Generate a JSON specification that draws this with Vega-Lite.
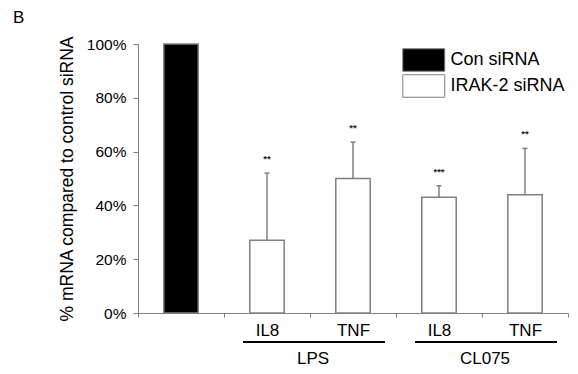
{
  "$schema": "https://vega.github.io/schema/vega-lite/v6.json",
  "width": 430,
  "height": 269,
  "autosize": {"type": "none"},
  "padding": {"left": 138, "top": 44, "right": 10, "bottom": 61},
  "background": "white",
  "title": {"text": "B", "anchor": "start", "frame": "group", "dx": -125, "dy": 12, "offset": 8, "baseline": "alphabetic", "fontSize": 17, "fontWeight": "normal", "color": "black"},
  "config": {
    "view": {"stroke": null},
    "font": "Liberation Sans",
    "legend": {"orient": "none", "legendX": 273.75, "legendY": 4, "padding": 0}
  },
  "datasets": {
    "bars": [
      {"cat": "Control", "siRNA": "Con siRNA", "value": 1.0},
      {"cat": "IL8 (LPS)", "siRNA": "IRAK-2 siRNA", "value": 0.27, "upper": 0.52, "sig": "**"},
      {"cat": "TNF (LPS)", "siRNA": "IRAK-2 siRNA", "value": 0.50, "upper": 0.635, "sig": "**"},
      {"cat": "IL8 (CL075)", "siRNA": "IRAK-2 siRNA", "value": 0.43, "upper": 0.473, "sig": "***"},
      {"cat": "TNF (CL075)", "siRNA": "IRAK-2 siRNA", "value": 0.44, "upper": 0.612, "sig": "**"}
    ],
    "groups": [
      {"group": "LPS", "first": "IL8 (LPS)", "last": "TNF (LPS)"},
      {"group": "CL075", "first": "IL8 (CL075)", "last": "TNF (CL075)"}
    ]
  },
  "layer": [
    {
      "data": {"name": "bars"},
      "mark": {"type": "bar", "width": {"band": 0.4}, "stroke": "#808080", "strokeWidth": 1.5},
      "encoding": {
        "x": {
          "field": "cat", "type": "nominal",
          "scale": {"domain": ["Control", "IL8 (LPS)", "TNF (LPS)", "IL8 (CL075)", "TNF (CL075)"], "paddingInner": 0, "paddingOuter": 0},
          "axis": {
            "title": null, "labelAngle": 0,
            "labelExpr": "datum.label == 'Control' ? '' : split(datum.label, ' ')[0]",
            "tickBand": "extent", "tickSize": 4, "labelPadding": 5,
            "labelFontSize": 17, "labelColor": "black",
            "domainColor": "#808080", "tickColor": "#808080", "grid": false
          }
        },
        "y": {
          "field": "value", "type": "quantitative",
          "scale": {"domain": [0, 1]},
          "axis": {
            "values": [0, 0.2, 0.4, 0.6, 0.8, 1], "format": "%",
            "labelFontSize": 15.5, "labelColor": "black", "labelPadding": 7,
            "tickSize": 5, "tickColor": "#808080", "domainColor": "#808080", "grid": false,
            "title": "% mRNA compared to control siRNA", "titleFontSize": 17.5,
            "titleFontWeight": "normal", "titleColor": "black", "titlePadding": 10
          }
        },
        "color": {
          "field": "siRNA", "type": "nominal",
          "scale": {"domain": ["Con siRNA", "IRAK-2 siRNA"], "range": ["black", "white"]},
          "legend": {
            "title": null,
            "symbolType": "M-1.867,-1H1.867V1H-1.867Z", "symbolSize": 506,
            "symbolStrokeColor": "#808080", "symbolStrokeWidth": 1,
            "labelFontSize": 18, "labelColor": "black", "labelOffset": 14.75, "rowPadding": -6.5
          }
        }
      }
    },
    {
      "data": {"name": "bars"},
      "transform": [{"filter": "isValid(datum.upper)"}],
      "mark": {"type": "rule", "color": "#808080", "strokeWidth": 1.5},
      "encoding": {
        "x": {"field": "cat", "type": "nominal"},
        "y": {"field": "value", "type": "quantitative"},
        "y2": {"field": "upper"}
      }
    },
    {
      "data": {"name": "bars"},
      "transform": [{"filter": "isValid(datum.upper)"}],
      "mark": {"type": "tick", "color": "#808080", "size": 5, "thickness": 1.5, "opacity": 1},
      "encoding": {
        "x": {"field": "cat", "type": "nominal"},
        "y": {"field": "upper", "type": "quantitative"}
      }
    },
    {
      "data": {"name": "bars"},
      "transform": [{"filter": "isValid(datum.upper)"}],
      "mark": {"type": "text", "fontSize": 9.5, "fontWeight": "bold", "color": "#222", "baseline": "alphabetic", "dy": -11},
      "encoding": {
        "x": {"field": "cat", "type": "nominal"},
        "y": {"field": "upper", "type": "quantitative"},
        "text": {"field": "sig"}
      }
    },
    {
      "data": {"name": "groups"},
      "mark": {"type": "rule", "color": "black", "strokeWidth": 2, "yOffset": 29, "xOffset": -24, "x2Offset": 32},
      "encoding": {
        "x": {"field": "first", "type": "nominal"},
        "x2": {"field": "last"},
        "y": {"datum": 0, "type": "quantitative"}
      }
    },
    {
      "data": {"name": "groups"},
      "mark": {"type": "text", "fontSize": 17, "color": "black", "baseline": "alphabetic", "yOffset": 51, "xOffset": 3},
      "encoding": {
        "x": {"field": "first", "type": "nominal", "bandPosition": 1},
        "y": {"datum": 0, "type": "quantitative"},
        "text": {"field": "group"}
      }
    }
  ]
}
